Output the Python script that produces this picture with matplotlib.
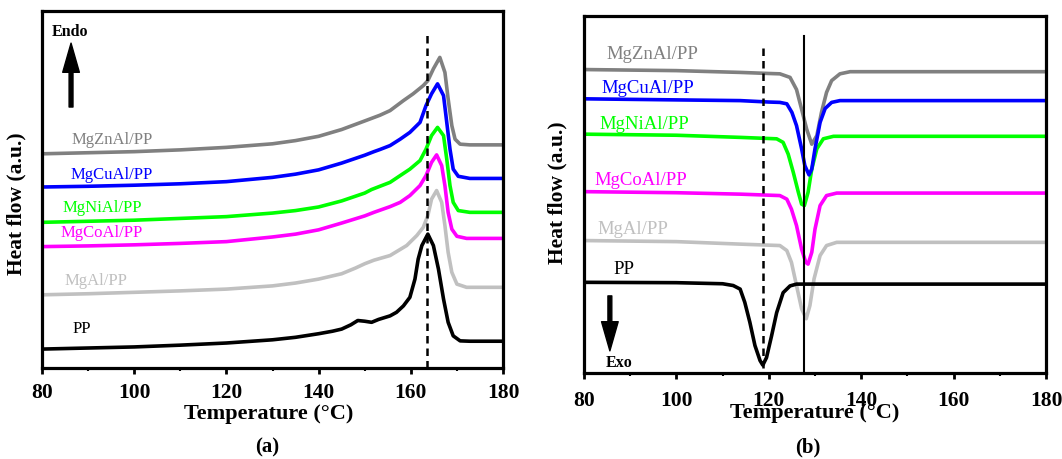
import numpy as np
import matplotlib
matplotlib.use("Agg")
import matplotlib.pyplot as plt
from matplotlib.ticker import MultipleLocator

plt.rcParams.update({
    "font.family": "serif",
    "font.serif": ["Liberation Serif", "DejaVu Serif"],
})

names = ["MgZnAl/PP", "MgAl/PP", "MgCoAl/PP", "MgNiAl/PP", "MgCuAl/PP", "PP"]
colors = ["#808080", "#c0c0c0", "#ff00ff", "#00ff00", "#0000ff", "#000000"]

# ---- (a) melting curves (heat flow in % of axis height) ----
a_zn_t = [80, 90, 100, 110, 120, 130, 135, 140, 145, 150, 153.3, 155.5, 158.4, 160.5, 162.7, 163.7, 164.9, 166.3, 167.4, 168.1, 168.9, 169.6, 170.7, 172.8, 180]
a_zn_v = [60.0, 60.3, 60.6, 61.1, 61.8, 62.8, 63.7, 64.9, 66.8, 69.2, 70.8, 72.1, 74.9, 76.8, 79.1, 80.5, 83.8, 87.0, 82.8, 75.4, 67.9, 64.1, 62.7, 62.5, 62.5]
a_al_t = [80, 90, 100, 110, 120, 130, 135, 140, 145, 148, 150, 152, 155.5, 159.1, 161.3, 162.7, 163.7, 164.5, 165.6, 166.7, 167.4, 168.1, 168.9, 170, 172.1, 180]
a_al_v = [20.5, 20.8, 21.2, 21.6, 22.1, 23.0, 23.8, 24.9, 26.4, 28.0, 29.2, 30.2, 31.5, 34.3, 37.1, 39.4, 42.7, 47.3, 49.7, 46.4, 39.9, 32.4, 26.8, 23.5, 22.6, 22.6]
a_co_t = [80, 90, 100, 110, 120, 130, 135, 140, 145, 150, 152, 155.5, 157.7, 159.8, 162, 163.3, 164.5, 165.6, 166.7, 167.4, 168.1, 168.9, 170, 172.1, 180]
a_co_v = [34.0, 34.2, 34.5, 34.9, 35.4, 36.7, 37.5, 38.7, 40.6, 42.6, 43.6, 45.2, 46.4, 48.3, 51.1, 53.9, 57.6, 59.7, 56.7, 51.1, 43.6, 38.9, 36.9, 36.3, 36.3]
a_ni_t = [80, 90, 100, 110, 120, 130, 135, 140, 145, 150, 151.5, 153.3, 155.5, 157.7, 159.8, 162, 163.3, 164.5, 165.8, 167.1, 167.8, 168.5, 169.2, 170.3, 172.8, 180]
a_ni_v = [40.8, 41.1, 41.4, 41.9, 42.4, 43.4, 44.1, 45.1, 46.8, 49.0, 50.0, 50.9, 52.0, 53.9, 55.7, 58.1, 61.3, 65.1, 67.4, 65.1, 58.5, 51.1, 46.4, 44.1, 43.6, 43.6]
a_cu_t = [80, 90, 100, 110, 120, 130, 135, 140, 145, 150, 152, 153.3, 155.5, 157.7, 159.8, 162, 163.3, 164.5, 165.8, 167.1, 167.8, 168.5, 169.2, 170.3, 172.8, 180]
a_cu_v = [50.7, 50.9, 51.2, 51.6, 52.2, 53.4, 54.3, 55.5, 57.4, 59.6, 60.6, 61.2, 62.3, 64.1, 66.0, 68.8, 73.5, 76.8, 79.6, 76.3, 68.8, 61.3, 55.7, 53.7, 53.1, 53.1]
a_pp_t = [80, 90, 100, 110, 120, 130, 135, 140, 143, 145, 147, 148.5, 150, 151.5, 153, 155.5, 156.9, 158.4, 159.8, 160.9, 161.6, 162.4, 163.7, 164.9, 166, 167.1, 168.1, 169.2, 170.7, 172.8, 180]
a_pp_v = [5.3, 5.6, 5.9, 6.4, 7.0, 7.9, 8.6, 9.6, 10.3, 10.9, 12.1, 13.3, 13.1, 12.8, 13.6, 14.6, 15.6, 17.4, 19.8, 24.9, 30.5, 34.3, 37.5, 34.3, 27.7, 19.3, 12.8, 9.0, 7.6, 7.5, 7.5]

a_label_t = [86.4, 84.8, 84.1, 84.5, 86.1, 86.7]
a_label_v = [64.1, 24.7, 38.2, 45.1, 54.4, 11.2]
a_tm = 163.6

# ---- (b) crystallization curves ----
b_zn_t = [80, 100, 113.8, 120, 122.4, 124.6, 126.0, 127.1, 128.2, 129.3, 130.4, 131.4, 132.5, 133.6, 135.4, 137.6, 180]
b_zn_v = [85.0, 84.7, 84.2, 83.9, 83.8, 82.8, 79.4, 73.9, 68.3, 64.1, 66.5, 73.0, 78.6, 81.9, 83.8, 84.4, 84.4]
b_al_t = [80, 100, 113.8, 122.4, 123.9, 124.9, 126.0, 127.1, 128.1, 128.9, 129.8, 131.1, 132.5, 134.7, 180]
b_al_v = [37.1, 36.8, 36.1, 35.7, 34.3, 31.0, 24.5, 18.0, 15.2, 18.9, 26.4, 32.9, 35.7, 36.6, 36.6]
b_co_t = [80, 100, 113.8, 122.4, 123.9, 124.9, 126.0, 127.1, 128.0, 128.5, 129.3, 130.0, 131.1, 132.5, 134.7, 180]
b_co_v = [50.8, 50.5, 50.1, 49.7, 48.7, 45.9, 41.3, 34.7, 31.0, 30.5, 33.8, 40.3, 46.9, 49.7, 50.4, 50.4]
b_ni_t = [80, 100, 113.8, 121.7, 123.1, 124.2, 125.3, 126.4, 127.1, 127.7, 128.5, 129.3, 130.4, 131.8, 134.0, 180]
b_ni_v = [66.9, 66.6, 66.0, 65.6, 64.6, 61.3, 56.2, 50.6, 47.3, 46.9, 50.6, 57.1, 62.8, 65.6, 66.3, 66.3]
b_cu_t = [80, 100, 113.8, 120, 122.4, 123.9, 125.0, 126.0, 127.1, 127.8, 128.7, 129.3, 130.0, 131.1, 132.2, 133.6, 135.4, 180]
b_cu_v = [76.8, 76.5, 76.3, 75.9, 75.8, 75.4, 73.0, 69.3, 62.8, 58.1, 55.5, 57.1, 62.8, 70.2, 74.1, 75.8, 76.3, 76.3]
b_pp_t = [80, 100, 110, 112.3, 113.8, 114.8, 115.9, 117.0, 118.1, 118.7, 119.5, 120.6, 121.7, 123.1, 124.6, 126.0, 180]
b_pp_v = [25.4, 25.3, 25.0, 24.5, 23.5, 19.8, 14.2, 7.7, 3.5, 2.2, 4.3, 10.4, 16.9, 22.5, 24.4, 24.9, 24.9]

b_label_t = [84.8, 82.9, 82.2, 83.3, 83.7, 86.4]
b_label_v = [89.6, 40.6, 54.3, 69.9, 80.1, 29.4]
b_tc_pp = 118.8
b_tc_fill = 127.7

a_curves = [(a_zn_t, a_zn_v), (a_al_t, a_al_v), (a_co_t, a_co_v),
            (a_ni_t, a_ni_v), (a_cu_t, a_cu_v), (a_pp_t, a_pp_v)]
b_curves = [(b_zn_t, b_zn_v), (b_al_t, b_al_v), (b_co_t, b_co_v),
            (b_ni_t, b_ni_v), (b_cu_t, b_cu_v), (b_pp_t, b_pp_v)]

W, H = 1062, 460
fig = plt.figure(figsize=(W / 100, H / 100), dpi=100)
ax_a = fig.add_axes([42 / W, 1 - 369 / H, 461 / W, 357 / H])
ax_b = fig.add_axes([584 / W, 1 - 374 / H, 462 / W, 357 / H])


def style_axis(ax, label_x, label_y, tick_pad):
    ax.set_xlim(80, 180)
    ax.set_ylim(0, 100)
    ax.xaxis.set_major_locator(MultipleLocator(20))
    ax.xaxis.set_minor_locator(MultipleLocator(10))
    ax.set_yticks([])
    for sp in ax.spines.values():
        sp.set_linewidth(2.3)
    ax.tick_params(axis="x", which="major", direction="out", length=4, width=2,
                   pad=tick_pad, labelsize=15.5)
    ax.tick_params(axis="x", which="minor", direction="out", length=2.5, width=1.5)
    for lab in ax.get_xticklabels():
        lab.set_fontweight("bold")
    ax.set_ylabel("Heat flow (a.u.)", fontsize=15.5, fontweight="bold")
    ax.set_xlabel("Temperature (°C)", fontsize=16, fontweight="bold")
    ax.yaxis.set_label_coords(label_x, label_y)


# (a)
for (t, v), c in zip(a_curves, colors):
    ax_a.plot(t, v, color=c, lw=2.6, solid_joinstyle="round", solid_capstyle="round")
for name, c, t, v in zip(names, colors, a_label_t, a_label_v):
    ax_a.text(t, v, name, color=c, fontsize=12, ha="left", va="center")
ax_a.plot([a_tm, a_tm], [0, 93.3], color="k", lw=1.8, ls=(0, (3, 2)))
ax_a.annotate("", xy=(86.3, 91.0), xytext=(86.3, 73.1),
              arrowprops=dict(facecolor="k", edgecolor="k", width=2.8, headwidth=12, headlength=21))
ax_a.text(86.1, 94.4, "Endo", fontsize=11.5, fontweight="bold", ha="center", va="center")
style_axis(ax_a, -0.033, 0.462, 6)
ax_a.xaxis.set_label_coords(0.492, -0.098)

# (b)
for (t, v), c in zip(b_curves, colors):
    ax_b.plot(t, v, color=c, lw=2.6, solid_joinstyle="round", solid_capstyle="round")
for name, c, t, v in zip(names, colors, b_label_t, b_label_v):
    ax_b.text(t, v, name, color=c, fontsize=13.5, ha="left", va="center")
ax_b.plot([b_tc_pp, b_tc_pp], [1.5, 91.2], color="k", lw=1.8, ls=(0, (3, 2)))
ax_b.plot([b_tc_fill, b_tc_fill], [0.7, 94.5], color="k", lw=1.5)
ax_b.annotate("", xy=(85.6, 6.2), xytext=(85.6, 21.6),
              arrowprops=dict(facecolor="k", edgecolor="k", width=2.8, headwidth=12, headlength=21))
ax_b.text(87.6, 3.2, "Exo", fontsize=11.5, fontweight="bold", ha="center", va="center")
style_axis(ax_b, -0.035, 0.507, 8)
ax_b.xaxis.set_label_coords(0.5, -0.081)

fig.text(267 / W, 1 - 447 / H, "(a)", fontsize=15, fontweight="bold", ha="center", va="center")
fig.text(808 / W, 1 - 447 / H, "(b)", fontsize=15, fontweight="bold", ha="center", va="center")

fig.savefig("out.png", dpi=100)
